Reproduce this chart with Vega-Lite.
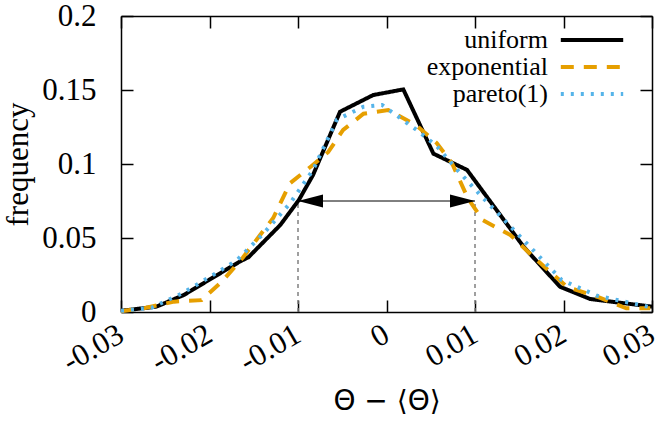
{
  "$schema": "https://vega.github.io/schema/vega-lite/v6.json",
  "width": 531,
  "height": 296,
  "autosize": "none",
  "padding": {"left": 121, "top": 16, "right": 15, "bottom": 112},
  "config": {
    "view": {"stroke": null},
    "font": "Liberation Serif",
    "axis": {
      "domainColor": "#000000",
      "domainWidth": 1.5,
      "tickColor": "#000000",
      "tickWidth": 1.5,
      "tickSize": -12,
      "grid": false,
      "labelColor": "#000000",
      "titleColor": "#000000",
      "labelFont": "Liberation Serif",
      "labelFontSize": 31,
      "titleFontWeight": "normal"
    },
    "legend": {
      "labelFont": "Liberation Serif",
      "labelFontSize": 26,
      "labelColor": "#000000",
      "labelLimit": 300,
      "padding": 0
    }
  },
  "datasets": {
    "curves": [
      {"x": -0.03, "y": 0.0008, "dist": "uniform"},
      {"x": -0.026, "y": 0.0036, "dist": "uniform"},
      {"x": -0.0229, "y": 0.0115, "dist": "uniform"},
      {"x": -0.0166, "y": 0.034, "dist": "uniform"},
      {"x": -0.0156, "y": 0.037, "dist": "uniform"},
      {"x": -0.012, "y": 0.0588, "dist": "uniform"},
      {"x": -0.0099, "y": 0.0757, "dist": "uniform"},
      {"x": -0.0083, "y": 0.0926, "dist": "uniform"},
      {"x": -0.00525, "y": 0.1353, "dist": "uniform"},
      {"x": -0.0015, "y": 0.1466, "dist": "uniform"},
      {"x": 0.0019, "y": 0.1504, "dist": "uniform"},
      {"x": 0.0053, "y": 0.107, "dist": "uniform"},
      {"x": 0.0091, "y": 0.096, "dist": "uniform"},
      {"x": 0.0155, "y": 0.044, "dist": "uniform"},
      {"x": 0.0196, "y": 0.0171, "dist": "uniform"},
      {"x": 0.023, "y": 0.0088, "dist": "uniform"},
      {"x": 0.03, "y": 0.0036, "dist": "uniform"},
      {"x": -0.03, "y": 0.0005, "dist": "exponential"},
      {"x": -0.0273, "y": 0.0027, "dist": "exponential"},
      {"x": -0.024, "y": 0.007, "dist": "exponential"},
      {"x": -0.0209, "y": 0.008, "dist": "exponential"},
      {"x": -0.0186, "y": 0.0205, "dist": "exponential"},
      {"x": -0.0162, "y": 0.037, "dist": "exponential"},
      {"x": -0.0128, "y": 0.0635, "dist": "exponential"},
      {"x": -0.0109, "y": 0.087, "dist": "exponential"},
      {"x": -0.0086, "y": 0.098, "dist": "exponential"},
      {"x": -0.0066, "y": 0.108, "dist": "exponential"},
      {"x": -0.0049, "y": 0.123, "dist": "exponential"},
      {"x": -0.0026, "y": 0.134, "dist": "exponential"},
      {"x": 0.0002, "y": 0.1365, "dist": "exponential"},
      {"x": 0.0034, "y": 0.126, "dist": "exponential"},
      {"x": 0.0057, "y": 0.114, "dist": "exponential"},
      {"x": 0.0074, "y": 0.1005, "dist": "exponential"},
      {"x": 0.0092, "y": 0.0768, "dist": "exponential"},
      {"x": 0.0109, "y": 0.062, "dist": "exponential"},
      {"x": 0.014, "y": 0.052, "dist": "exponential"},
      {"x": 0.017, "y": 0.035, "dist": "exponential"},
      {"x": 0.0204, "y": 0.017, "dist": "exponential"},
      {"x": 0.0238, "y": 0.0103, "dist": "exponential"},
      {"x": 0.0271, "y": 0.0025, "dist": "exponential"},
      {"x": 0.0298, "y": 0.0025, "dist": "exponential"},
      {"x": -0.03, "y": 0.0008, "dist": "pareto(1)"},
      {"x": -0.0265, "y": 0.003, "dist": "pareto(1)"},
      {"x": -0.0231, "y": 0.0126, "dist": "pareto(1)"},
      {"x": -0.0199, "y": 0.0239, "dist": "pareto(1)"},
      {"x": -0.0169, "y": 0.035, "dist": "pareto(1)"},
      {"x": -0.0139, "y": 0.053, "dist": "pareto(1)"},
      {"x": -0.0109, "y": 0.0734, "dist": "pareto(1)"},
      {"x": -0.0083, "y": 0.096, "dist": "pareto(1)"},
      {"x": -0.0056, "y": 0.13, "dist": "pareto(1)"},
      {"x": -0.0026, "y": 0.1387, "dist": "pareto(1)"},
      {"x": -0.0005, "y": 0.1399, "dist": "pareto(1)"},
      {"x": 0.0034, "y": 0.123, "dist": "pareto(1)"},
      {"x": 0.0057, "y": 0.112, "dist": "pareto(1)"},
      {"x": 0.0077, "y": 0.098, "dist": "pareto(1)"},
      {"x": 0.0106, "y": 0.079, "dist": "pareto(1)"},
      {"x": 0.0151, "y": 0.051, "dist": "pareto(1)"},
      {"x": 0.0198, "y": 0.0216, "dist": "pareto(1)"},
      {"x": 0.0238, "y": 0.011, "dist": "pareto(1)"},
      {"x": 0.03, "y": 0.003, "dist": "pareto(1)"}
    ],
    "guides": [
      {"x": -0.01, "y": 0.075, "y0": 0, "side": "left"},
      {"x": 0.01, "y": 0.075, "y0": 0, "side": "right"}
    ],
    "span": [
      {"x": -0.01, "x2": 0.01, "y": 0.075}
    ]
  },
  "layer": [
    {
      "data": {"name": "guides"},
      "mark": {"type": "rule", "color": "#808080", "strokeWidth": 1.5, "strokeDash": [4, 4]},
      "encoding": {
        "x": {"field": "x", "type": "quantitative", "scale": {"domain": [-0.03, 0.03]},
          "axis": {"orient": "top", "labels": false, "title": null, "values": [-0.03, -0.02, -0.01, 0, 0.01, 0.02, 0.03]}},
        "y": {"field": "y0", "type": "quantitative", "scale": {"domain": [0, 0.2]},
          "axis": {"orient": "right", "labels": false, "title": null, "values": [0, 0.05, 0.1, 0.15, 0.2]}},
        "y2": {"field": "y"}
      }
    },
    {
      "data": {"name": "curves"},
      "mark": {"type": "line", "strokeJoin": "miter", "strokeCap": "butt"},
      "encoding": {
        "x": {"field": "x", "type": "quantitative",
          "axis": {"orient": "bottom", "values": [-0.03, -0.02, -0.01, 0, 0.01, 0.02, 0.03],
            "labelExpr": "replace(format(datum.value, '~g'), '\u2212', '-')",
            "labelAngle": -30, "labelAlign": "right", "labelBaseline": "middle", "labelPadding": 32,
            "title": "Θ − ⟨Θ⟩", "titleFont": "DejaVu Sans", "titleFontSize": 28, "titlePadding": 10}},
        "y": {"field": "y", "type": "quantitative",
          "axis": {"orient": "left", "values": [0, 0.05, 0.1, 0.15, 0.2], "format": "~g",
            "labelPadding": 37, "title": "frequency", "titleFont": "Liberation Serif", "titleFontSize": 31, "titlePadding": 7}},
        "color": {"field": "dist", "type": "nominal",
          "scale": {"domain": ["uniform", "exponential", "pareto(1)"], "range": ["#000000", "#E69F00", "#56B4E9"]},
          "legend": {"orient": "none", "legendX": 457, "legendY": 10, "title": null,
            "symbolType": "M-2.6,0L2.6,0", "symbolSize": 576, "symbolStrokeWidth": 4, "symbolFillColor": "transparent",
            "labelAlign": "right", "labelOffset": -58, "labelFont": "Liberation Serif", "labelFontSize": 26,
            "labelColor": "#000000", "labelLimit": 300, "rowPadding": -5}},
        "strokeDash": {"field": "dist", "type": "nominal",
          "scale": {"domain": ["uniform", "exponential", "pareto(1)"], "range": [[1, 0], [13, 10], [3, 7]]}},
        "strokeWidth": {"field": "dist", "type": "nominal",
          "scale": {"domain": ["uniform", "exponential", "pareto(1)"], "range": [4, 4, 3.5]}, "legend": null}
      }
    },
    {
      "data": {"name": "span"},
      "mark": {"type": "rule", "color": "#000000", "strokeWidth": 1},
      "encoding": {
        "x": {"field": "x", "type": "quantitative", "axis": null},
        "x2": {"field": "x2"},
        "y": {"field": "y", "type": "quantitative", "axis": null}
      }
    },
    {
      "data": {"name": "guides"},
      "mark": {"type": "point", "filled": true, "color": "#000000", "opacity": 1, "size": 2500, "strokeWidth": 0},
      "encoding": {
        "x": {"field": "x", "type": "quantitative", "axis": null},
        "y": {"field": "y", "type": "quantitative", "axis": null},
        "shape": {"field": "side", "type": "nominal", "legend": null,
          "scale": {"domain": ["left", "right"], "range": ["M0,0L1,-0.26L1,0.26Z", "M0,0L-1,-0.26L-1,0.26Z"]}}
      }
    }
  ],
  "resolve": {"axis": {"x": "independent", "y": "independent"}}
}
